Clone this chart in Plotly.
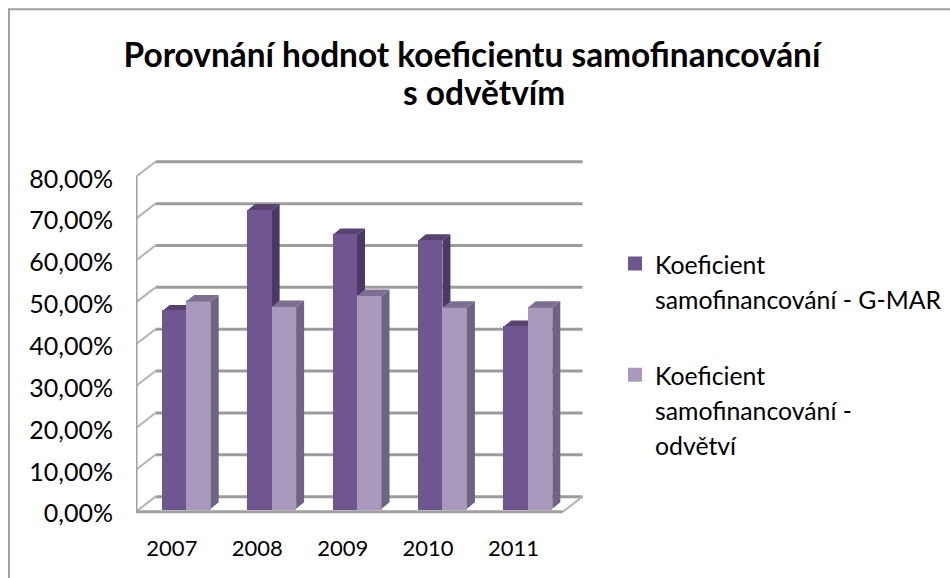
import plotly.graph_objects as go

TITLE_LINES = ["Porovnání hodnot koeficientu samofinancování", "&nbsp;&nbsp;&nbsp;s odvětvím"]
YEARS = ["2007", "2008", "2009", "2010", "2011"]
GMAR = [0.471, 0.712, 0.654, 0.640, 0.434]
ODVETVI = [0.495, 0.482, 0.508, 0.480, 0.480]
Y_TICKS = [0.0, 0.1, 0.2, 0.3, 0.4, 0.5, 0.6, 0.7, 0.8]
Y_LABELS = ["0,00%", "10,00%", "20,00%", "30,00%", "40,00%", "50,00%", "60,00%", "70,00%", "80,00%"]
NAME_A = "Koeficient<br>samofinancování - G-MAR"
NAME_B = "Koeficient<br>samofinancování -<br>odvětví"

C_A, C_A_SIDE, C_A_TOP = "#6f5690", "#4b3863", "#574270"
C_B, C_B_SIDE, C_B_TOP = "#a99abd", "#6c6480", "#7d6f92"
GRID = "#9c9c9c"
FONT = "Lato, Carlito, Calibri, sans-serif"

PX_X, PX_Y = 85.4, 419.0
WALL_X, WALL_Y = 19.5 / PX_X, 15 / PX_Y
BAR_DX, BAR_DY = 8 / PX_X, 6.5 / PX_Y
BAR_W = 24.5 / PX_X
BASE = 3 / PX_Y
LABEL_DROP = 2 / PX_Y
CENTER = [i + 0.588 for i in range(len(YEARS))]
LABEL_POS = [i + 0.42 for i in range(len(YEARS))]
N = len(YEARS)


def styled(name, size=24.8):
    return "<br>".join(f'<span style="font-size:{size}px">{p}</span>' for p in name.split("<br>"))


def faces(values, left):
    sx, sy, tx, ty = [], [], [], []
    for c, v in zip(CENTER, values):
        x0 = c + left
        x1 = x0 + BAR_W
        top = BASE + v
        sx += [x1, x1 + BAR_DX, x1 + BAR_DX, x1, x1, None]
        sy += [BASE, BASE + BAR_DY, top + BAR_DY, top, BASE, None]
        tx += [x0, x0 + BAR_DX, x1 + BAR_DX, x1, x0, None]
        ty += [top, top + BAR_DY, top + BAR_DY, top, top, None]
    return sx, sy, tx, ty


def poly(x, y, color, xa="x", ya="y"):
    return go.Scatter(x=x, y=y, mode="lines", fill="toself", fillcolor=color,
                      line=dict(width=0, color=color), hoverinfo="skip",
                      showlegend=False, xaxis=xa, yaxis=ya, cliponaxis=False)


fig = go.Figure()

# walls and floor
gx, gy = [], []
for t in Y_TICKS:
    gx += [WALL_X, N + WALL_X, None]
    gy += [t + WALL_Y, t + WALL_Y, None]
fig.add_trace(go.Scatter(x=gx, y=gy, mode="lines", line=dict(color=GRID, width=3),
                         hoverinfo="skip", showlegend=False, cliponaxis=False))
dx, dy = [], []
for t in Y_TICKS:
    dx += [0, WALL_X, None]
    dy += [t, t + WALL_Y, None]
dx += [N, N + WALL_X, None]
dy += [0, WALL_Y, None]
fig.add_trace(go.Scatter(x=dx, y=dy, mode="lines", line=dict(color="#b4b4b4", width=2),
                         hoverinfo="skip", showlegend=False, cliponaxis=False))
fig.add_trace(go.Scatter(x=[0, 0, N], y=[Y_TICKS[-1], 0, 0], mode="lines",
                         line=dict(color="#a0a0a0", width=3),
                         hoverinfo="skip", showlegend=False, cliponaxis=False))

# series A side/top, behind everything in the overlay
sx, sy, tx, ty = faces(GMAR, -BAR_W)
fig.add_trace(poly(sx, sy, C_A_SIDE))
fig.add_trace(poly(tx, ty, C_A_TOP))

# fronts as bars on overlay axes
fig.add_trace(go.Bar(x=[c - BAR_W / 2 for c in CENTER], y=GMAR, base=BASE, width=BAR_W - 2 / PX_X,
                     name=styled(NAME_A), legendgroup="a",
                     marker=dict(color=C_A, line=dict(color=C_A, width=2)),
                     xaxis="x2", yaxis="y2", hovertext=YEARS))
fig.add_trace(go.Bar(x=[c + BAR_W / 2 for c in CENTER], y=ODVETVI, base=BASE, width=BAR_W - 2 / PX_X,
                     name=styled(NAME_B), legendgroup="b",
                     marker=dict(color=C_B, line=dict(color=C_B, width=2)),
                     xaxis="x2", yaxis="y2", hovertext=YEARS))
sx, sy, tx, ty = faces(ODVETVI, 0)
fig.add_trace(poly(sx, sy, C_B_SIDE, "x2", "y2"))
fig.add_trace(poly(tx, ty, C_B_TOP, "x2", "y2"))

PAD = 0.02 * PX_Y
L, B, W, H = 136, 66 - PAD, 464, 356 + PAD
XR = [0, W / PX_X]
YR = [-0.02, 356 / PX_Y]
title_html = "<b>" + "<br>".join(f'<span style="font-size:33.4px">{t}</span>' for t in TITLE_LINES) + "</b>"
fig.update_layout(
    width=950, height=578, autosize=False,
    margin=dict(l=L, r=950 - L - W, t=578 - B - H, b=B, pad=0),
    paper_bgcolor="white", plot_bgcolor="rgba(0,0,0,0)",
    font=dict(family=FONT, color="black", size=20),
    barmode="overlay", bargap=0,
    title=dict(text=title_html,
               x=472 / 950, xanchor="center", xref="container",
               y=1 - 67 / 578, yanchor="top", yref="container",
               font=dict(size=29.5, family=FONT, color="black")),
    xaxis=dict(range=XR, tickmode="array", tickvals=LABEL_POS, ticktext=YEARS, showgrid=False,
               zeroline=False, showline=False, ticks="", ticklabelstandoff=13,
               tickfont=dict(size=22, family=FONT)),
    yaxis=dict(range=YR, tickmode="array", tickvals=[t - LABEL_DROP for t in Y_TICKS], ticktext=Y_LABELS,
               showgrid=False, zeroline=False, showline=False, ticks="", ticklabelstandoff=22,
               tickfont=dict(size=25, family=FONT)),
    xaxis2=dict(range=XR, overlaying="x", visible=False),
    yaxis2=dict(range=YR, overlaying="y", visible=False),
    legend=dict(xref="container", yref="container", x=615 / 950, y=1 - 239.5 / 578,
                xanchor="left", yanchor="top", bgcolor="rgba(0,0,0,0)", valign="top",
                font=dict(size=27, family=FONT), traceorder="grouped", tracegroupgap=38,
                itemclick=False, itemdoubleclick=False),
    shapes=[dict(type="rect", xref="paper", yref="paper",
                 x0=(9 - L) / W, x1=(970 - L) / W,
                 y0=(578 - B - 600) / H, y1=(578 - B - 9) / H,
                 line=dict(color="#a0a0a0", width=2), fillcolor="rgba(0,0,0,0)", layer="below")],
)

fig.write_html("out.html", config={"displayModeBar": False},
               post_script="document.body.style.margin='0';document.body.style.overflow='hidden';")
